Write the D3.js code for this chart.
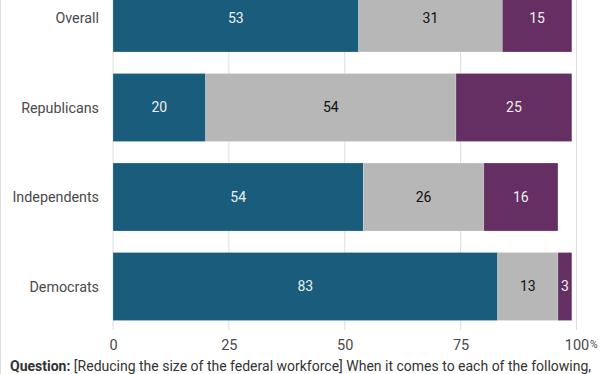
<!DOCTYPE html>
<html>
<head>
<meta charset="utf-8">
<script src="https://cdn.jsdelivr.net/npm/d3@7"></script>
<style>
  body { margin: 0; background: #fff; }
  text { font-family: Roboto, 'Noto Sans', sans-serif; }
</style>
</head>
<body>
<div id="chart"></div>
<script>
const groups = ['Overall', 'Republicans', 'Independents', 'Democrats']
const seriesNames = ['a', 'b', 'c']
const valuesA = [53, 20, 54, 83]
const valuesB = [31, 54, 26, 13]
const valuesC = [15, 25, 16, 3]
const tickValues = [0, 25, 50, 75, 100]
const colors = ['#195c7b', '#b7b7b7', '#652f63']
const labelColors = ['#eeeeee', '#111', '#eeeeee']

const width = 612
const height = 374

const svg = d3
  .select('#chart')
  .append('svg')
  .attr('width', width)
  .attr('height', height)

const rows = groups.map((g, i) => ({
  group: g,
  a: valuesA[i],
  b: valuesB[i],
  c: valuesC[i]
}))
const stacked = d3.stack().keys(seriesNames)(rows)

const x = d3.scaleLinear().domain([0, 100]).range([113, 576.5])
const y = d3.scaleBand().domain(groups).range([-37.5, 342]).padding(0.24)

// left frame line
svg.append('line')
  .attr('x1', 0.5).attr('x2', 0.5)
  .attr('y1', 0).attr('y2', height)
  .attr('stroke', '#ddd')

// gridlines
svg.append('g')
  .selectAll('line')
  .data(tickValues)
  .enter()
  .append('line')
  .attr('x1', d => x(d)).attr('x2', d => x(d))
  .attr('y1', 0).attr('y2', 330)
  .attr('stroke', '#dcdcdc')

// bars
const layers = svg.append('g')
  .selectAll('g')
  .data(stacked)
  .enter()
  .append('g')
  .attr('fill', (d, i) => colors[i])

layers.selectAll('rect')
  .data(d => d)
  .enter()
  .append('rect')
  .attr('x', d => x(d[0]))
  .attr('width', d => x(d[1]) - x(d[0]))
  .attr('y', d => y(d.data.group))
  .attr('height', y.bandwidth())
  .attr('stroke', '#ffffff')
  .attr('stroke-opacity', 0.35)
  .attr('stroke-width', 0.6)

// value labels
stacked.forEach((layer, i) => {
  svg.append('g')
    .selectAll('text')
    .data(layer)
    .enter()
    .append('text')
    .attr('x', d => (x(d[0]) + x(d[1])) / 2)
    .attr('y', d => y(d.data.group) + y.bandwidth() / 2)
    .attr('dy', '0.35em')
    .attr('text-anchor', 'middle')
    .attr('fill', labelColors[i])
    .style('font-size', '14px')
    .text(d => d[1] - d[0])
})

// category labels
svg.append('g')
  .selectAll('text')
  .data(groups)
  .enter()
  .append('text')
  .attr('x', 99)
  .attr('y', d => y(d) + y.bandwidth() / 2)
  .attr('dy', '0.35em')
  .attr('text-anchor', 'end')
  .attr('fill', '#4a4a4a')
  .style('font-size', '14.3px')
  .text(d => d)

// x axis labels
const xAxis = d3.axisBottom(x).tickValues(tickValues).tickSize(0).tickPadding(0)
const axisG = svg.append('g')
  .attr('transform', 'translate(0,340)')
  .call(xAxis)
axisG.select('.domain').remove()
axisG.selectAll('text')
  .attr('fill', '#4a4a4a')
  .style('font-size', '14.5px')
  .style('font-family', 'Roboto, sans-serif')

svg.append('text')
  .attr('x', 590)
  .attr('y', 348)
  .attr('fill', '#4a4a4a')
  .style('font-size', '10.5px')
  .text('%')

// question note
const note = svg.append('text')
  .attr('x', 10)
  .attr('y', 371)
  .attr('fill', '#333')
  .style('font-size', '14px')
note.append('tspan').attr('font-weight', 'bold').text('Question:')
note.append('tspan').text(' [Reducing the size of the federal workforce] When it comes to each of the following,')
</script>
</body>
</html>
